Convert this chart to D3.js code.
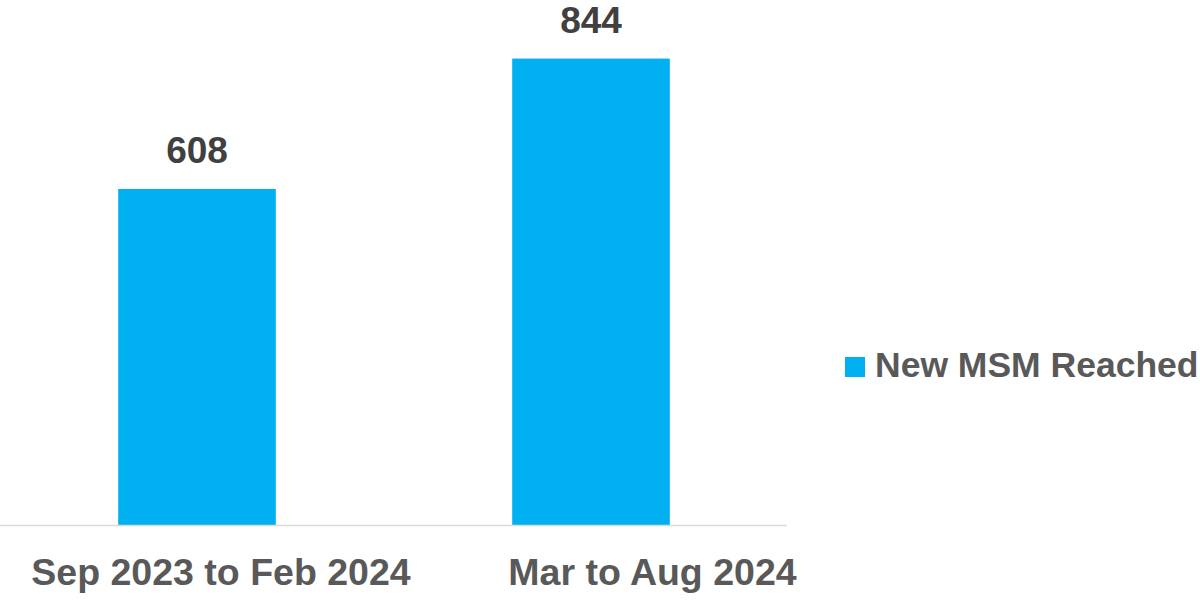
<!DOCTYPE html>
<html>
<head>
<meta charset="utf-8">
<script src="https://cdn.jsdelivr.net/npm/d3@7"></script>
<style>
  html, body { margin: 0; padding: 0; background: #ffffff; }
  svg { display: block; font-family: "Liberation Sans", Arial, sans-serif; }
</style>
</head>
<body>
<svg id="chart" width="1200" height="600"></svg>
<script>
const categories = ["Sep 2023 to Feb 2024", "Mar to Aug 2024"];
const values = [608, 844];
const seriesName = "New MSM Reached";

const svg = d3.select("#chart");
const barColor = "#00B0F0";

const x = d3.scaleBand().domain(categories).range([0, 788]).paddingInner(0.6).paddingOuter(0.3);
const labelX = d3.scalePoint().domain(categories).range([221, 652.5]);
const y = d3.scaleLinear().domain([0, 950]).range([525, 0]);

// bars
svg.selectAll("rect.bar").data(values).join("rect")
  .attr("class", "bar")
  .attr("x", (d, i) => x(categories[i]))
  .attr("width", x.bandwidth())
  .attr("y", d => y(d))
  .attr("height", d => y(0) - y(d))
  .attr("fill", barColor);

// axis line
svg.append("line")
  .attr("x1", 0).attr("x2", 787)
  .attr("y1", y(0) + 0.5).attr("y2", y(0) + 0.5)
  .attr("stroke", "#d9d9d9").attr("stroke-width", 1.5);

// data labels
svg.selectAll("text.val").data(values).join("text")
  .attr("class", "val")
  .attr("x", (d, i) => x(categories[i]) + x.bandwidth() / 2)
  .attr("y", d => y(d) - 26)
  .attr("text-anchor", "middle")
  .attr("font-size", 37)
  .attr("font-weight", "bold")
  .attr("fill", "#404040")
  .text(d => d);

// category labels
svg.selectAll("text.cat").data(categories).join("text")
  .attr("class", "cat")
  .attr("x", d => labelX(d))
  .attr("y", 585)
  .attr("text-anchor", "middle")
  .attr("font-size", 37.5)
  .attr("font-weight", "bold")
  .attr("fill", "#595959")
  .text(d => d);

// legend
const lg = svg.append("g").attr("transform", "translate(845,357)");
lg.append("rect").attr("width", 20).attr("height", 20).attr("fill", barColor);
lg.append("text")
  .attr("x", 30).attr("y", 20)
  .attr("font-size", 35.5)
  .attr("font-weight", "bold")
  .attr("fill", "#595959")
  .text(seriesName);
</script>
</body>
</html>
